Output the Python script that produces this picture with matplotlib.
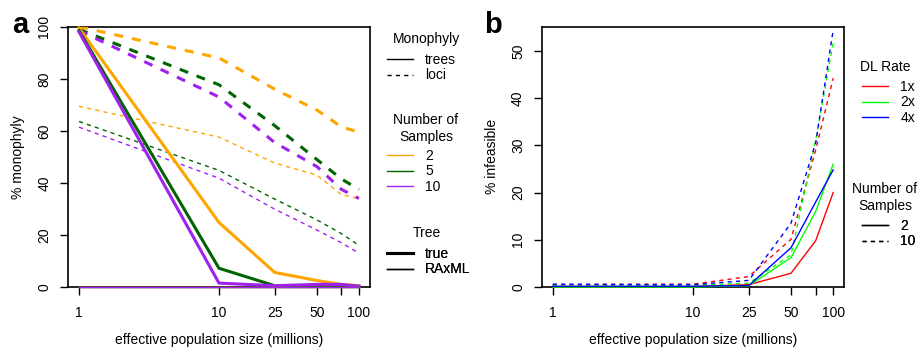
import matplotlib
matplotlib.use('Agg')
import matplotlib.pyplot as plt
from matplotlib.lines import Line2D

plt.rcParams['font.family'] = ['Liberation Sans', 'DejaVu Sans']
plt.rcParams['font.size'] = 10
plt.rcParams['lines.scale_dashes'] = False

W, H = 921, 347

# effective population size (millions)
pop = [1, 10, 25, 50, 75, 100]
pop_ticks = [1, 10, 25, 50, 75, 100]
pop_labels = ['1', '10', '25', '50', '', '100']

# panel a: % monophyly, keyed by number of samples
samples_a = ['2', '5', '10']
colors_a = ['#FFA500', '#006400', '#A020F0']
true_trees = {
    '2': [99.5, 24.8, 5.6, 2.5, 1.0, 0.5],
    '5': [98.5, 7.2, 0.5, 0.5, 0.5, 0.2],
    '10': [98.0, 1.5, 0.5, 1.0, 1.0, 0.3],
}
true_loci = {
    '2': [100.0, 88.0, 76.0, 68.0, 61.5, 59.5],
    '5': [99.0, 77.7, 62.0, 49.0, 41.5, 37.5],
    '10': [98.5, 73.0, 55.5, 46.3, 37.5, 34.0],
}
raxml_trees = {
    '2': [0, 0, 0, 0, 0, 0],
    '5': [0, 0, 0, 0, 0, 0],
    '10': [0, 0, 0, 0, 0, 0],
}
raxml_loci = {
    '2': [69.4, 57.6, 47.6, 43.0, 35.5, 34.0],
    '5': [63.6, 44.8, 33.8, 25.8, 20.5, 16.0],
    '10': [61.4, 41.8, 29.9, 21.9, 17.0, 13.0],
}

# panel b: % infeasible, keyed by DL rate
rates_b = ['1x', '2x', '4x']
colors_b = ['#FF0000', '#00FF00', '#0000FF']
infeasible_2 = {
    '1x': [0.1, 0.1, 0.5, 2.9, 9.8, 20.0],
    '2x': [0.0, 0.0, 0.3, 6.2, 16.0, 26.0],
    '4x': [0.15, 0.15, 0.3, 8.3, 18.0, 24.8],
}
infeasible_10 = {
    '1x': [0.5, 0.6, 2.2, 10.1, 29.0, 44.2],
    '2x': [0.4, 0.4, 0.8, 6.8, 31.0, 51.8],
    '4x': [0.6, 0.5, 1.4, 13.5, 30.5, 54.4],
}

THICK = 2.2
THIN = 1.0
DASH_THICK = (0, (6.5, 6.5))
DASH_THIN = (0, (3, 3))


def fx(px):
    return px / W


def fy(py):
    return 1 - py / H


def style_axes(ax, ylim, yticks, ylabel):
    ax.set_xscale('log')
    ax.set_xlim(0.834, 120)
    ax.set_ylim(*ylim)
    ax.set_xticks(pop_ticks)
    ax.set_xticklabels(pop_labels)
    ax.minorticks_off()
    ax.set_yticks(yticks)
    ax.tick_params(axis='both', direction='out', length=6, width=1, labelsize=10)
    ax.tick_params(axis='x', pad=8)
    ax.tick_params(axis='y', pad=6)
    for lab in ax.get_yticklabels():
        lab.set_rotation(90)
        lab.set_va('center')
    for s in ax.spines.values():
        s.set_linewidth(1.2)
    ax.set_xlabel('effective population size (millions)')
    ax.xaxis.set_label_coords(0.5, -0.175)
    ax.set_ylabel(ylabel)
    ax.yaxis.set_label_coords(-0.142, 0.5)


def add_legend(ax, fig, handles, labels, left_px, top_px):
    leg = ax.legend(handles, labels, loc='upper left',
                    bbox_to_anchor=(fx(left_px), fy(top_px)),
                    bbox_transform=fig.transFigure, frameon=False,
                    borderpad=0, borderaxespad=0, handlelength=1.85,
                    handletextpad=0.9, labelspacing=0.1, fontsize=10)
    ax.add_artist(leg)
    return leg


fig = plt.figure(figsize=(W / 100, H / 100), dpi=100)
ax_a = fig.add_axes([fx(68), fy(287), (370 - 68) / W, 260.3 / H])
ax_b = fig.add_axes([fx(541.7), fy(287), (844.3 - 541.7) / W, 260.3 / H])

# panel a
for s, c in zip(samples_a, colors_a):
    ax_a.plot(pop, raxml_loci[s], color=c, lw=THIN, linestyle=DASH_THIN, zorder=3)
for s, c in zip(samples_a, colors_a):
    ax_a.plot(pop, true_loci[s], color=c, lw=THICK, linestyle=DASH_THICK, zorder=3)
for s, c in zip(samples_a, colors_a):
    ax_a.plot(pop, true_trees[s], color=c, lw=THICK, zorder=3, clip_on=False)
for s, c in zip(samples_a, colors_a):
    ax_a.plot(pop, raxml_trees[s], color=c, lw=THIN, zorder=3, clip_on=False)
style_axes(ax_a, (0, 100), [0, 20, 40, 60, 80, 100], '% monophyly')

# panel b
for r, c in zip(rates_b, colors_b):
    ax_b.plot(pop, infeasible_2[r], color=c, lw=THIN, zorder=3, clip_on=False)
    ax_b.plot(pop, infeasible_10[r], color=c, lw=THIN, linestyle=DASH_THIN, zorder=3)
style_axes(ax_b, (0, 55.1), [0, 10, 20, 30, 40, 50], '% infeasible')

# legends, panel a
add_legend(ax_a, fig,
           [Line2D([], [], color='k', lw=THIN), Line2D([], [], color='k', lw=THIN, linestyle=DASH_THIN)],
           ['trees', 'loci'], 387, 53)
add_legend(ax_a, fig,
           [Line2D([], [], color=c, lw=THIN) for c in colors_a],
           samples_a, 387, 149)
add_legend(ax_a, fig,
           [Line2D([], [], color='k', lw=THICK), Line2D([], [], color='k', lw=THIN)],
           ['true', 'RAxML'], 387, 247)
fig.text(fx(426), fy(39.3), 'Monophyly', ha='center', va='center')
fig.text(fx(426), fy(128.5), 'Number of\nSamples', ha='center', va='center',
         multialignment='center', linespacing=1.25)
fig.text(fx(426.7), fy(233), 'Tree', ha='center', va='center')

# legends, panel b
add_legend(ax_b, fig,
           [Line2D([], [], color=c, lw=THIN) for c in colors_b],
           rates_b, 862, 80)
add_legend(ax_b, fig,
           [Line2D([], [], color='k', lw=THIN), Line2D([], [], color='k', lw=THIN, linestyle=DASH_THIN)],
           ['2', '10'], 862, 219)
fig.text(fx(885), fy(67), 'DL Rate', ha='center', va='center')
fig.text(fx(885), fy(197.5), 'Number of\nSamples', ha='center', va='center',
         multialignment='center', linespacing=1.25)

fig.text(fx(12), fy(33), 'a', fontsize=21, fontweight='bold', ha='left', va='baseline')
fig.text(fx(484), fy(33), 'b', fontsize=21, fontweight='bold', ha='left', va='baseline')

fig.savefig('out.png', dpi=100)
